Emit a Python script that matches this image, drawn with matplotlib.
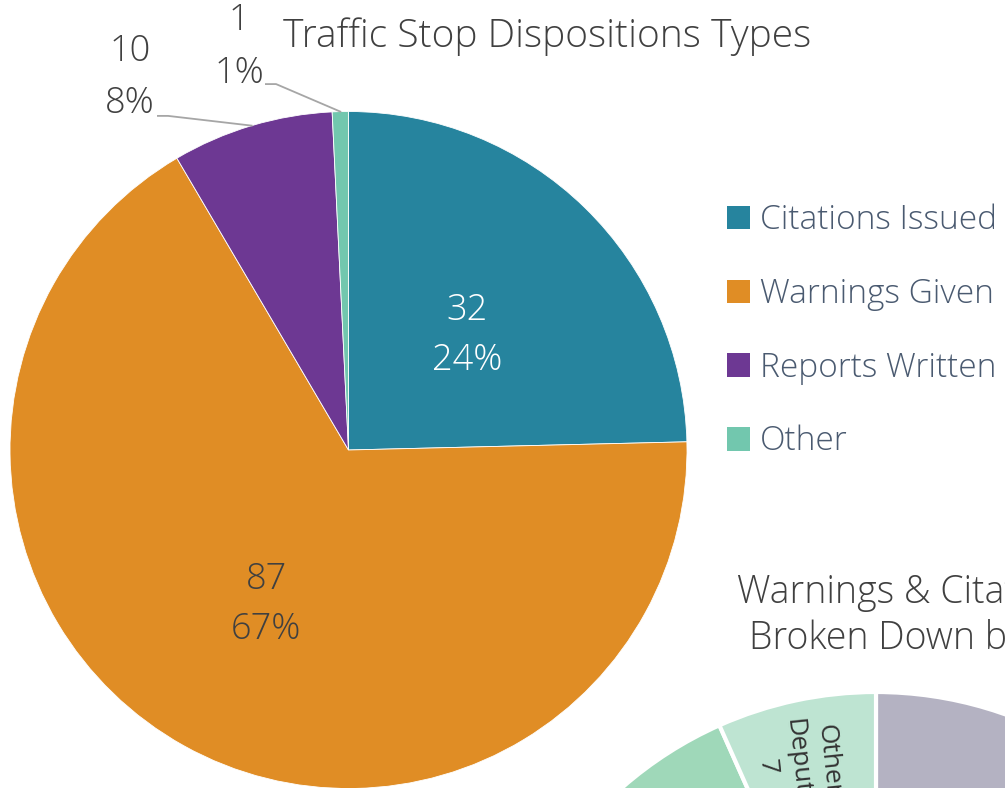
import numpy as np
import matplotlib.pyplot as plt
from matplotlib.patches import Patch

plt.rcParams['font.family'] = ['Open Sans', 'DejaVu Sans']

# main chart data
categories = ['Citations Issued', 'Warnings Given', 'Reports Written', 'Other']
counts = [32, 87, 10, 1]
pct_labels = ['24%', '67%', '8%', '1%']
colors = ['#26849E', '#E08D25', '#6D3893', '#72C7AE']

# second chart (only its top edge is visible in the picture)
deputy_vals = [78, 20, 7]
deputy_names = ['', '', 'Other\nDeputy']
deputy_colors = ['#B4B2C2', '#9FD8B9', '#BEE4D2']

W, H = 1005, 788
fig = plt.figure(figsize=(W / 100, H / 100), dpi=100)

# main pie, centre (348, 450) px, radius 338 px
cx, cy, r = 348.5, 450, 338.5
ax = fig.add_axes([(cx - r) / W, (H - cy - r) / H, 2 * r / W, 2 * r / H])
wedges, _ = ax.pie(counts, colors=colors, startangle=90, counterclock=False,
                   wedgeprops=dict(linewidth=0.6, edgecolor='white'))
ax.set_xlim(-1, 1)
ax.set_ylim(-1, 1)

total = sum(counts)
ang_end = np.cumsum(counts) / total * 360
ang_mid = ang_end - np.array(counts) / total * 360 / 2

def polar(a, rad):
    t = np.deg2rad(a)
    return rad * np.sin(t), rad * np.cos(t)

lab_font = dict(fontsize=26, fontweight=300)

# inside labels
inside_col = ['white', '#404040']
for i in range(2):
    x, y = polar(ang_mid[i], 0.5)
    ax.text(x, y - 0.02, f'{counts[i]}\n{pct_labels[i]}', ha='center', va='center',
            color=inside_col[i], linespacing=1.45, **lab_font)

# outside labels: label centre and end of leader line, in data units
out_lab = {2: ((-0.646, 1.100), (-0.563, 0.987)),
           3: ((-0.323, 1.190), (-0.244, 1.081))}
for i, ((lx, ly), (hx, hy)) in out_lab.items():
    ex, ey = polar(ang_mid[i], 1.0)
    ax.plot([ex, hx + 0.03, hx], [ey, hy, hy], color='#A6A6A6', lw=1.3, clip_on=False)
    ax.text(lx, ly, f'{counts[i]}\n{pct_labels[i]}', ha='center', va='center',
            color='#404040', multialignment='center', linespacing=1.55, **lab_font)

fig.text(283 / W, 1 - 47 / H, 'Traffic Stop Dispositions Types', ha='left', va='baseline',
         fontsize=28, fontweight=300, color='#404040')

handles = [Patch(facecolor=c) for c in colors]
fig.legend(handles, categories, loc='center left', bbox_to_anchor=(697 / W, 1 - 331 / H),
           frameon=False, labelcolor='#4A5A70', handlelength=0.7,
           handleheight=0.7, handletextpad=0.3, labelspacing=1.21,
           prop=dict(weight=300, size=24))

# second chart, cut off by the edge of the picture
cx2, cy2, r2 = 876, 1077, 385
ax2 = fig.add_axes([(cx2 - r2) / W, (H - cy2 - r2) / H, 2 * r2 / W, 2 * r2 / H])
ax2.pie(deputy_vals, colors=deputy_colors, startangle=90, counterclock=False,
        wedgeprops=dict(linewidth=3, edgecolor='white'))
ax2.set_xlim(-1, 1)
ax2.set_ylim(-1, 1)
tot2 = sum(deputy_vals)
mid2 = (np.cumsum(deputy_vals) - np.array(deputy_vals) / 2) / tot2 * 360
tx, ty = polar(mid2[2] - 2, 0.84)
ax2.text(tx, ty, f'{deputy_names[2]}\n{deputy_vals[2]}', rotation=-84, ha='center',
         va='center', fontsize=19, color='#333333', linespacing=1.3,
         rotation_mode='anchor')

fig.text(737 / W, 1 - 603 / H, 'Warnings & Citations', ha='left', va='baseline',
         fontsize=27, fontweight=300, color='#404040')
fig.text(749 / W, 1 - 649 / H, 'Broken Down by Deputy', ha='left', va='baseline',
         fontsize=27, fontweight=300, color='#404040')

fig.savefig('out.png', dpi=100)
